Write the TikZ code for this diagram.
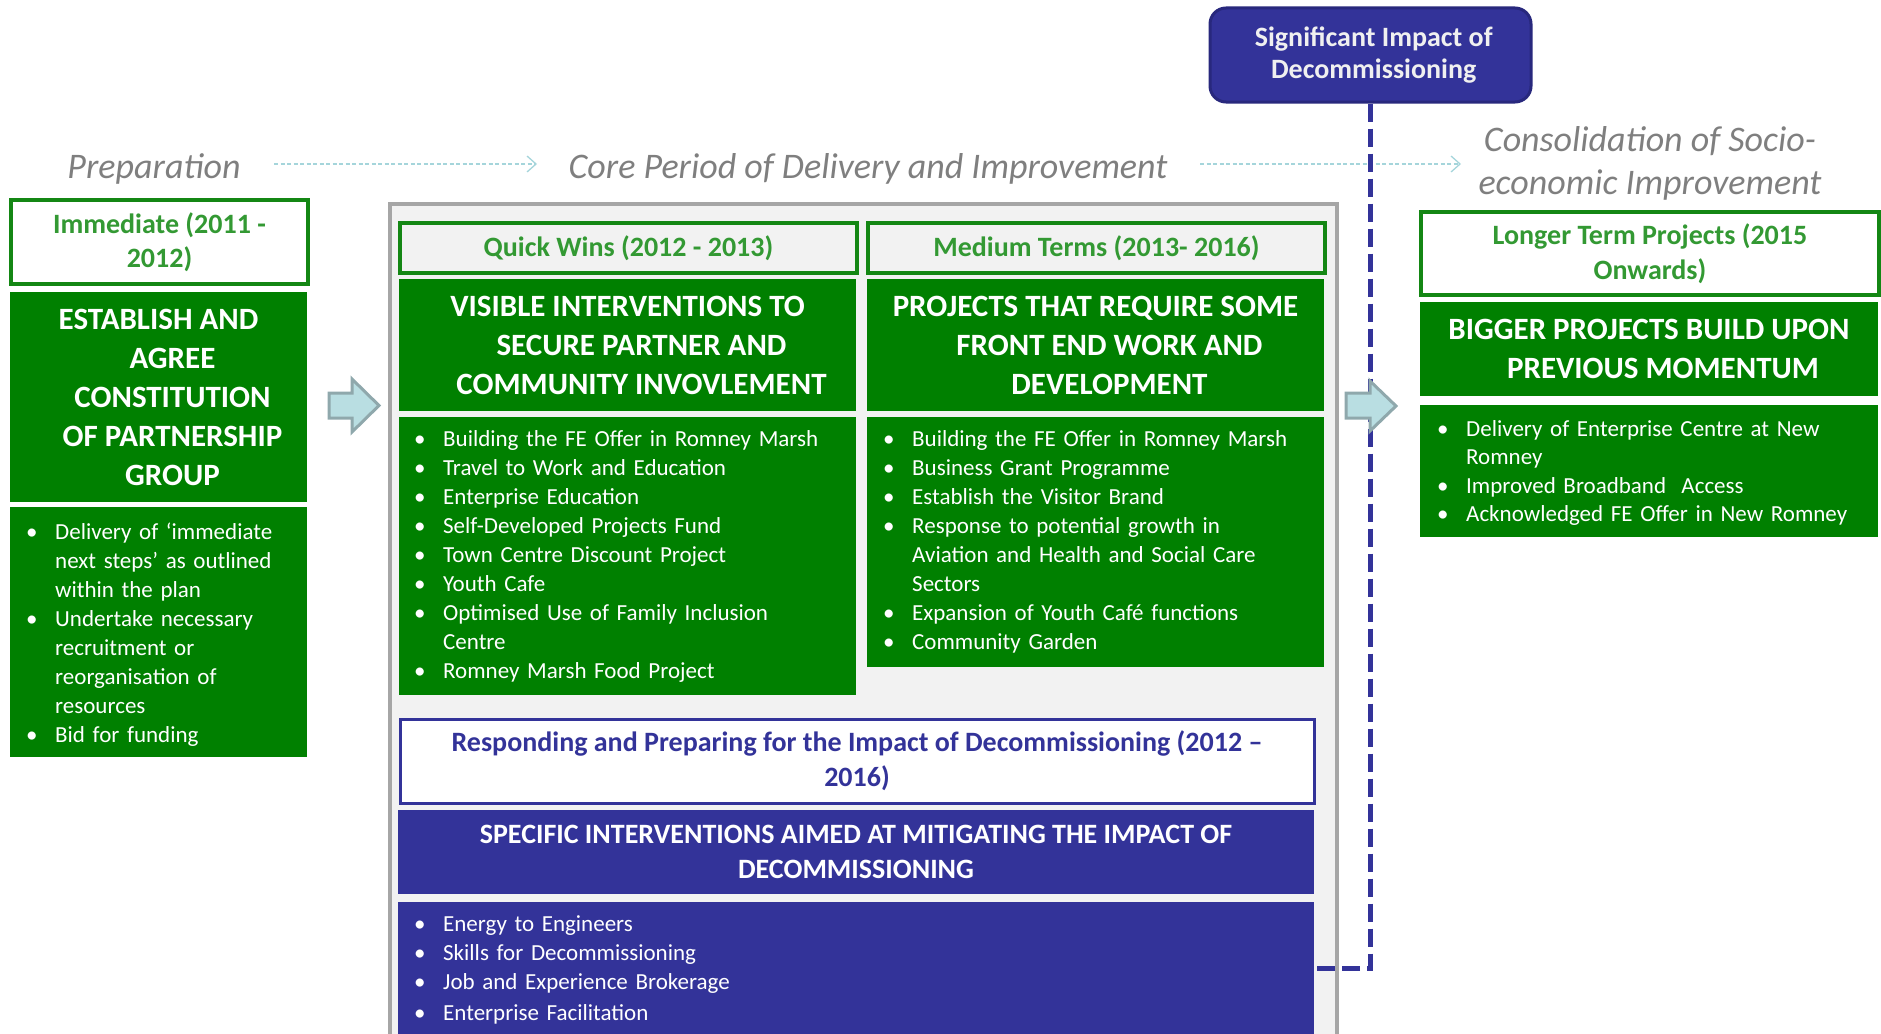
\documentclass[tikz,border=0pt]{standalone}
\usepackage{fontspec}
\setmainfont{Carlito}
\usetikzlibrary{arrows.meta}
\definecolor{gfill}{RGB}{0,128,0}
\definecolor{gborder}{RGB}{20,135,20}
\definecolor{gtext}{RGB}{51,153,51}
\definecolor{bfill}{RGB}{51,51,153}
\definecolor{bdark}{RGB}{40,40,125}
\definecolor{grayfill}{RGB}{242,242,242}
\definecolor{grayline}{RGB}{166,166,166}
\definecolor{labgray}{RGB}{127,127,127}
\definecolor{dotc}{RGB}{165,213,219}
\definecolor{arrfill}{RGB}{185,222,226}
\definecolor{arrdraw}{RGB}{143,168,172}
\definecolor{offwhite}{RGB}{240,240,240}
\newcommand\itm[1]{\noindent\hangindent=24pt\hangafter=1\makebox[24pt][l]{\kern-5pt\textbullet}#1\par}
\newcommand\ind{\hspace*{28pt}}
\begin{document}
\begin{tikzpicture}[x=1pt,y=-1pt,
  gbox/.style={fill=gfill, draw=none, inner sep=0pt, text=white, align=center,
    font=\bfseries\fontsize{31}{39}\selectfont},
  tbox/.style={fill=white, draw=gborder, line width=4pt, inner sep=0pt, text=gtext, align=center,
    font=\bfseries\fontsize{28}{34.5}\selectfont},
  bbox/.style={fill=bfill, draw=none, inner sep=0pt, text=white, align=center,
    font=\bfseries\fontsize{28}{35}\selectfont},
  lst/.style={inner sep=0pt, text=white, text width=#1, align=left,
    font=\fontsize{23}{29}\selectfont},
  lab/.style={inner sep=0pt, text=labgray, align=center, font=\itshape\fontsize{36}{43}\selectfont},
  dotarrow/.style={draw=dotc, line width=1.3pt, dash pattern=on 4pt off 2.5pt,
    -{Straight Barb[length=9pt,width=16pt,line width=1.3pt]}},
  blockarrow/.style={fill=arrfill, draw=arrdraw, line width=3pt, line join=miter},
  decoline/.style={draw=bfill, line width=5pt, dash pattern=on 18pt off 7pt}
]
\useasboundingbox (0,0) rectangle (1881,1033);
\clip (0,0) rectangle (1881,1033);

% phase labels
\node[lab, anchor=base] (prep) at (154,178) {Preparation};
\node[lab, anchor=base] (core) at (868,178) {Core Period of Delivery and Improvement};
\node[lab] (cons) at (1650,163) {Consolidation of Socio-\\economic Improvement};
\coordinate (a1s) at (274,164);
\coordinate (a1e) at (537,164);
\coordinate (a2s) at (1200,164);
\coordinate (a2e) at (1461,164);
\draw[dotarrow] (a1s) -- (a1e);
\draw[dotarrow] (a2s) -- (a2e);

% core container
\node[fill=grayfill, draw=grayline, line width=4pt, inner sep=0pt, minimum width=947pt,
  minimum height=900pt, anchor=north west] (cont) at (388,202) {};

% left column
\node[tbox, minimum width=297pt, minimum height=84pt] (imm) at (159.5,242) {Immediate (2011 -\\2012)};
\node[gbox, minimum width=297pt, minimum height=210pt] (est) at (158.5,397)
  {ESTABLISH AND\\\ind AGREE\\\ind CONSTITUTION\\\ind OF PARTNERSHIP\\\ind GROUP};
\node[fill=gfill, minimum width=297pt, minimum height=250pt, inner sep=0pt] (estl) at (158.5,632) {};
\node[lst=270pt, anchor=base west] (estt) at (31,539)
  {\itm{Delivery of ‘immediate\newline next steps’ as outlined\newline within the plan}%
   \itm{Undertake necessary\newline recruitment or\newline reorganisation of\newline resources}%
   \itm{Bid for funding}};

% quick wins
\node[tbox, fill=grayfill, minimum width=457pt, minimum height=50pt] (qw) at (628.5,248) {Quick Wins (2012 - 2013)};
\node[gbox, minimum width=457pt, minimum height=132pt] (vis) at (627.5,345)
  {VISIBLE INTERVENTIONS TO\\\ind SECURE PARTNER AND\\\ind COMMUNITY INVOVLEMENT};
\node[fill=gfill, minimum width=457pt, minimum height=278pt, inner sep=0pt] (visl) at (627.5,556) {};
\node[lst=420pt, anchor=base west] (vist) at (419,446)
  {\itm{Building the FE Offer in Romney Marsh}%
   \itm{Travel to Work and Education}%
   \itm{Enterprise Education}%
   \itm{Self-Developed Projects Fund}%
   \itm{Town Centre Discount Project}%
   \itm{Youth Cafe}%
   \itm{Optimised Use of Family Inclusion\newline Centre}%
   \itm{Romney Marsh Food Project}};

% medium terms
\node[tbox, fill=grayfill, minimum width=457pt, minimum height=50pt] (med) at (1096.5,248) {Medium Terms (2013- 2016)};
\node[gbox, minimum width=457pt, minimum height=132pt] (proj) at (1095.5,345)
  {PROJECTS THAT REQUIRE SOME\\\ind FRONT END WORK AND\\\ind DEVELOPMENT};
\node[fill=gfill, minimum width=457pt, minimum height=250pt, inner sep=0pt] (projl) at (1095.5,542) {};
\node[lst=420pt, anchor=base west] (projt) at (888,446)
  {\itm{Building the FE Offer in Romney Marsh}%
   \itm{Business Grant Programme}%
   \itm{Establish the Visitor Brand}%
   \itm{Response to potential growth in\newline Aviation and Health and Social Care\newline Sectors}%
   \itm{Expansion of Youth Café functions}%
   \itm{Community Garden}};

% decommissioning
\node[tbox, draw=bfill, line width=3pt, text=bfill, font=\bfseries\fontsize{28}{35}\selectfont,
  minimum width=914pt, minimum height=84pt] (resp) at (857,761)
  {Responding and Preparing for the Impact of Decommissioning (2012 –\\2016)};
\node[bbox, minimum width=916pt, minimum height=84pt] (spec) at (856,852)
  {SPECIFIC INTERVENTIONS AIMED AT MITIGATING THE IMPACT OF\\DECOMMISSIONING};
\node[fill=bfill, minimum width=916pt, minimum height=160pt, inner sep=0pt, anchor=north] (specl) at (856,902) {};
\node[lst=420pt, anchor=base west] (spect) at (419,931)
  {\itm{Energy to Engineers}%
   \itm{Skills for Decommissioning}%
   \itm{Job and Experience Brokerage}%
   \vspace{2pt}\itm{Enterprise Facilitation}};

% right column
\node[tbox, minimum width=458pt, minimum height=83pt] (lt) at (1650,253.5) {Longer Term Projects (2015\\Onwards)};
\node[gbox, minimum width=458pt, minimum height=94pt] (big) at (1649,349)
  {BIGGER PROJECTS BUILD UPON\\\ind PREVIOUS MOMENTUM};
\node[fill=gfill, minimum width=458pt, minimum height=132pt, inner sep=0pt] (bigl) at (1649,471) {};
\node[lst=420pt, anchor=base west, font=\fontsize{23}{28.5}\selectfont] (bigt) at (1442,436)
  {\itm{Delivery of Enterprise Centre at New\newline Romney}%
   \itm{Improved Broadband\ \ Access}%
   \itm{Acknowledged FE Offer in New Romney}};

% significant impact
\node[fill=bfill, draw=bdark, line width=3pt, rounded corners=16pt, inner sep=0pt,
  minimum width=321pt, minimum height=94pt, text=offwhite, align=center,
  font=\bfseries\fontsize{28}{32}\selectfont] (sig) at (1370.5,55)
  {\ Significant Impact of\\\ Decommissioning};
\coordinate (dend) at (1314,968);
\draw[decoline] (sig.south) |- (dend);

% block arrows
\draw[blockarrow] (329,393) -- (352,393) -- (352,379) -- (379,405.5) -- (352,432) -- (352,418) -- (329,418) -- cycle;
\draw[blockarrow] (1346,393) -- (1370,393) -- (1370,381) -- (1396,406) -- (1370,431) -- (1370,418) -- (1346,418) -- cycle;
\end{tikzpicture}
\end{document}
